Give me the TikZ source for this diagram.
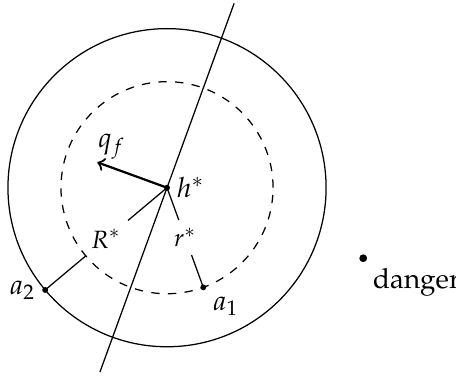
\documentclass[tikz,border=0pt]{standalone}
\usepackage[T1]{fontenc}
\usepackage{mathpazo}
\usetikzlibrary{calc}

\begin{document}
\begin{tikzpicture}[scale=0.67, >=to, line width=0.45pt,
    dot/.style={circle, fill, inner sep=0pt, minimum size=2.1pt},
    rlabel/.style={font=\small}]
  \useasboundingbox (-3.15,-3.56) rectangle (5.45,3.54);
  % ===== Kreise =====
  \node[dot] (hstar) at (0,0) {};
  \draw (hstar.center) circle (3);
  \draw[dashed] (hstar.center) circle (2);
  \coordinate (lo) at (250:3.7); \coordinate (hi) at (70:3.7);
  \draw (lo)--(hi);
  \node[anchor=west] (hlab) at (hstar) {$h^*$};
  % ===== q_f =====
  \coordinate (qtip) at (160:1.4);
  \draw[->, thick] (hstar.center)--(qtip);
  \node (qlab) at ($(hstar)+(-1.04,0.78)$) {$q_f$};
  % ===== R^* =====
  \node[dot] (a2) at (220:3) {};
  \coordinate (R1) at (220:0.96); \coordinate (R2) at (220:2);
  \draw (hstar.center)--(R1); \draw (R2)--(a2.center);
  \node[rlabel] (Rlab) at (220:1.5) {$R^*$};
  \node[left] (a2lab) at (a2) {$a_2$};
  % ===== r^* =====
  \node[dot] (a1) at (-70:2) {};
  \coordinate (r1) at (-70:0.65); \coordinate (r2) at (-70:1.35);
  \draw (hstar.center)--(r1); \draw (r2)--(a1.center);
  \node[rlabel] (rlab) at (-70:1.0) {$r^*$};
  \node[below right] (a1lab) at (a1) {$a_1$};
  % ===== danger =====
  \node[dot, minimum size=2.8pt] (danger) at (3.70,-1.33) {};
  \node[below right] (dangerlab) at (danger) {danger};
\end{tikzpicture}
\end{document}
